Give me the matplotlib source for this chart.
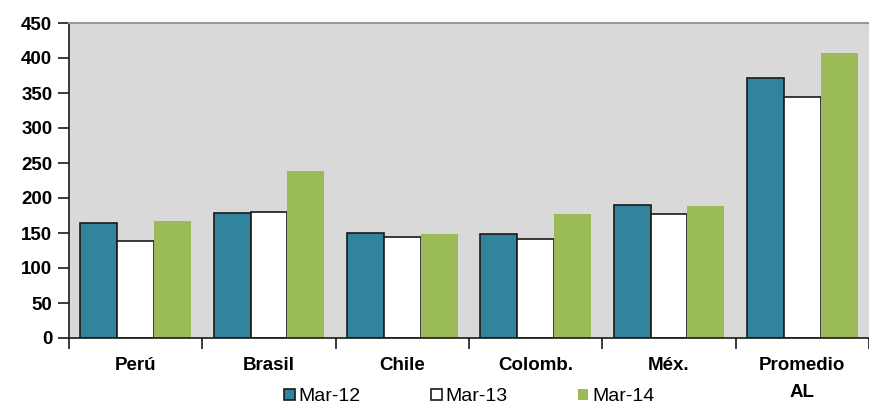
import numpy as np
import matplotlib.pyplot as plt
from matplotlib.ticker import FixedLocator, NullFormatter

paises = ['Perú', 'Brasil', 'Chile', 'Colomb.', 'Méx.', 'Promedio\nAL']
series = ['Mar-12', 'Mar-13', 'Mar-14']
mar12 = [164, 178, 150, 148, 190, 372]
mar13 = [139, 180, 144, 142, 177, 344]
mar14 = [167, 239, 149, 177, 188, 407]

plt.rcParams['font.family'] = ['Liberation Sans', 'DejaVu Sans']
plt.rcParams['font.weight'] = 'bold'

fig = plt.figure(figsize=(8.69, 4.07), dpi=100)
ax = fig.add_axes([69/869, 69/407, 800/869, 315/407])
ax.set_facecolor('#D9D9D9')

x = np.arange(len(paises))
w = 0.277
ax.bar(x - w, mar12, w, color='#31849B', edgecolor='#1a1a1a', linewidth=1.2, label=series[0])
ax.bar(x, mar13, w, color='white', edgecolor='#1a1a1a', linewidth=1.2, label=series[1])
ax.bar(x + w, mar14, w, color='#9BBB59', edgecolor='none', label=series[2])

ax.set_xlim(-0.5, len(paises) - 0.5)
ax.set_ylim(0, 450)
ax.set_yticks(range(0, 451, 50))
ax.set_xticks(x)
ax.set_xticklabels(paises, fontsize=13.5, fontweight='bold', linespacing=1.75)
ax.tick_params(axis='x', which='major', length=0, pad=14)
ax.xaxis.set_minor_locator(FixedLocator(np.arange(-0.5, len(paises) - 0.4, 1)))
ax.xaxis.set_minor_formatter(NullFormatter())
ax.tick_params(axis='x', which='minor', length=8, width=1.2, color='#1a1a1a')
ax.tick_params(axis='y', length=8, width=1.2, color='#1a1a1a', labelsize=13.5, pad=4)
for lab in ax.get_yticklabels():
    lab.set_fontweight('bold')

ax.spines['left'].set_color('#1a1a1a')
ax.spines['left'].set_linewidth(1.2)
ax.spines['bottom'].set_color('#1a1a1a')
ax.spines['bottom'].set_linewidth(1.2)
ax.spines['top'].set_color('#999999')
ax.spines['top'].set_linewidth(1.5)
ax.spines['right'].set_visible(False)

leg = fig.legend(loc='center', bbox_to_anchor=(0.54, 0.025), ncol=3, frameon=False,
                 handlelength=0.55, handleheight=0.55, handletextpad=0.2,
                 columnspacing=3.6, prop={'weight': 'normal', 'size': 14})

fig.savefig('out.png', dpi=100)
